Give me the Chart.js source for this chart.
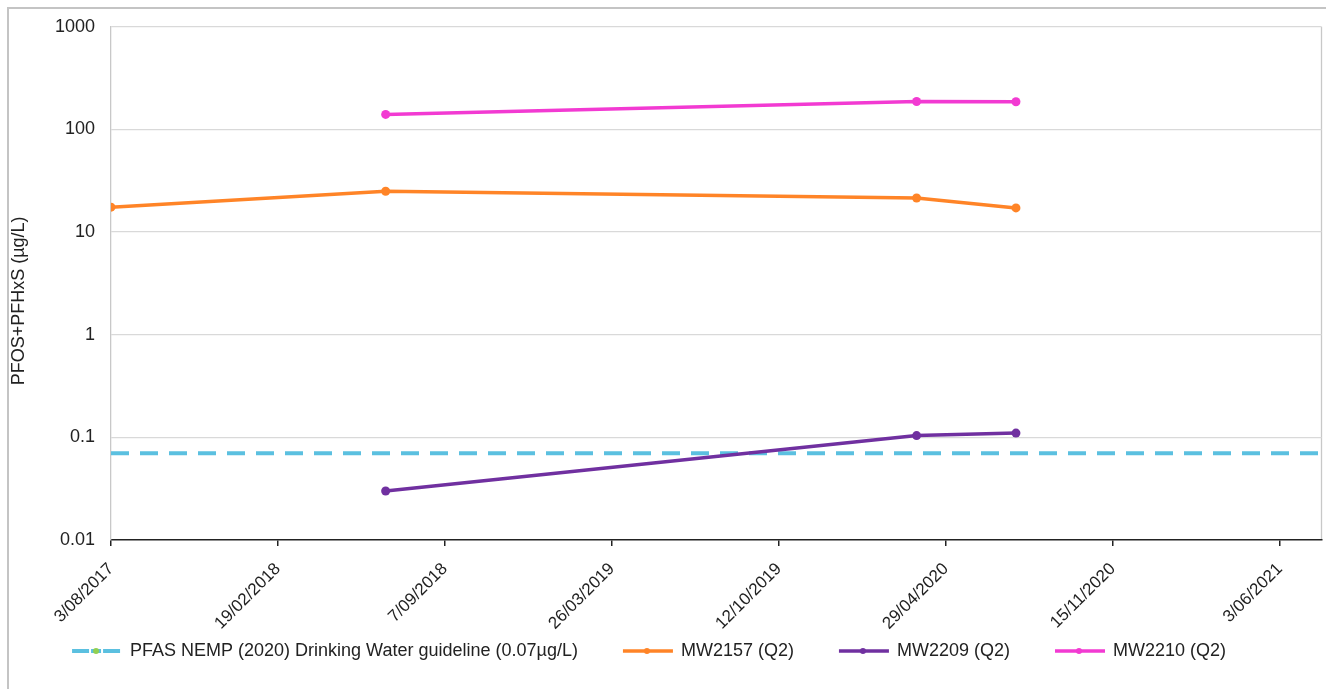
<!DOCTYPE html>
<html lang="en">
<head>
	<meta charset="UTF-8">
	<title>PFOS+PFHxS</title>
	<script src="https://cdn.jsdelivr.net/npm/chart.js@4/dist/chart.umd.min.js"></script>
	<style>
		body { margin: 0; background: #fff; }
		#wrap { position: absolute; left: 0; top: 0; width: 1326px; height: 689px; }
	</style>
</head>
<body>
	<div id="wrap"><canvas id="mainChart"></canvas></div>

	<script>
		// sample data
		const seriesNames = ["PFAS NEMP (2020) Drinking Water guideline (0.07µg/L)", "MW2157 (Q2)", "MW2209 (Q2)", "MW2210 (Q2)"]
		const guidelineValue = 0.07
		const mw2157Dates = ["2017-08-03", "2018-06-28", "2020-03-25", "2020-07-22"]
		const mw2157Values = [17.5, 25, 21.5, 17.2]
		const mw2209Dates = ["2018-06-28", "2020-03-25", "2020-07-22"]
		const mw2209Values = [0.03, 0.104, 0.11]
		const mw2210Dates = ["2018-06-28", "2020-03-25", "2020-07-22"]
		const mw2210Values = [140, 187, 186]
		const axisStart = "2017-08-03"
		const axisEnd = "2021-07-23"
		const tickDays = [0, 200, 400, 600, 800, 1000, 1200, 1400]
		const yTicks = [0.01, 0.1, 1, 10, 100, 1000]

		const colors = ["#5bc0e0", "#ff8427", "#7030a0", "#f23ad2"]

		const dayOf = s => {
			const [y, m, d] = s.split("-").map(Number)
			const [y0, m0, d0] = axisStart.split("-").map(Number)
			return (Date.UTC(y, m - 1, d) - Date.UTC(y0, m0 - 1, d0)) / 86400000
		}
		const fmtDay = n => {
			const [y0, m0, d0] = axisStart.split("-").map(Number)
			const dt = new Date(Date.UTC(y0, m0 - 1, d0) + n * 86400000)
			return `${dt.getUTCDate()}/${String(dt.getUTCMonth() + 1).padStart(2, "0")}/${dt.getUTCFullYear()}`
		}
		const pts = (dates, vals) => dates.map((d, i) => ({x: dayOf(d), y: vals[i]}))

		// little line+dot pictures for the legend, blank space on the left acts as the gap between items
		const iconGap = 36
		function legendIcon(color, dashed) {
			const c = document.createElement("canvas")
			c.width = 54 + iconGap
			c.height = 12
			const g = c.getContext("2d")
			g.translate(iconGap, 0)
			g.strokeStyle = color
			g.lineWidth = dashed ? 4 : 3.5
			if(dashed) {
				g.beginPath(); g.moveTo(2, 6); g.lineTo(19, 6); g.stroke()
				g.beginPath(); g.moveTo(33, 6); g.lineTo(50, 6); g.stroke()
				g.beginPath(); g.moveTo(21, 6); g.lineTo(31, 6); g.stroke()
				g.fillStyle = "#92d050"
			} else {
				g.beginPath(); g.moveTo(2, 6); g.lineTo(52, 6); g.stroke()
				g.fillStyle = color
			}
			g.beginPath(); g.arc(26, 6, 3, 0, Math.PI * 2); g.fill()
			return c
		}

		const framePlugin = {
			id: "frame",
			afterLayout(chart) {
				// legend in the original sits a bit left of centre
				if(chart.legend) chart.legend.right -= 26 + iconGap
			},
			beforeDraw(chart) {
				const {ctx, chartArea} = chart
				ctx.save()
				ctx.strokeStyle = "#c4c4c4"
				ctx.lineWidth = 2
				ctx.beginPath()
				ctx.moveTo(8, 689)
				ctx.lineTo(8, 8)
				ctx.lineTo(1326, 8)
				ctx.stroke()
				ctx.strokeStyle = "#c8c8c8"
				ctx.lineWidth = 1.3
				ctx.beginPath()
				ctx.moveTo(chartArea.right, chartArea.top)
				ctx.lineTo(chartArea.right, chartArea.bottom)
				ctx.stroke()
				ctx.restore()
			}
		}

		Chart.defaults.font.family = "'Liberation Sans', Arial, sans-serif"
		Chart.defaults.color = "#222"

		const lineStyle = (i) => ({
			borderColor: colors[i],
			backgroundColor: colors[i],
			borderWidth: 3.5,
			pointRadius: 4.5,
			pointHoverRadius: 4.5,
			pointBorderWidth: 0,
			tension: 0,
			order: i
		})

		new Chart(document.getElementById("mainChart"), {
			type: "line",
			plugins: [framePlugin],
			data: {
				datasets: [
					{
						label: seriesNames[0],
						data: [{x: 0, y: guidelineValue}, {x: dayOf(axisEnd), y: guidelineValue}],
						borderColor: colors[0],
						backgroundColor: colors[0],
						borderWidth: 4,
						borderDash: [18, 11],
						pointRadius: 0,
						order: 4
					},
					{label: seriesNames[1], data: pts(mw2157Dates, mw2157Values), ...lineStyle(1)},
					{label: seriesNames[2], data: pts(mw2209Dates, mw2209Values), ...lineStyle(2)},
					{label: seriesNames[3], data: pts(mw2210Dates, mw2210Values), ...lineStyle(3)}
				]
			},
			options: {
				responsive: true,
				maintainAspectRatio: false,
				animation: false,
				layout: {padding: {left: 0, top: 24, right: 1, bottom: 19}},
				scales: {
					x: {
						type: "linear",
						min: 0,
						max: dayOf(axisEnd),
						afterBuildTicks: scale => { scale.ticks = tickDays.map(v => ({value: v})) },
						afterFit: scale => { scale.height = 92 },
						grid: {drawOnChartArea: false, drawTicks: true, tickLength: 6, color: "#222", lineWidth: 1.5},
						border: {color: "#222", width: 1.5},
						ticks: {
							minRotation: 45,
							maxRotation: 45,
							padding: 13,
							font: {size: 17},
							callback: v => fmtDay(v)
						}
					},
					y: {
						type: "logarithmic",
						min: 0.01,
						max: 1000,
						afterBuildTicks: scale => { scale.ticks = yTicks.map(v => ({value: v})) },
						afterFit: scale => { scale.width = 111 },
						grid: {
							drawTicks: false,
							color: c => c.tick && c.tick.value === 0.01 ? "rgba(0,0,0,0)" : "#d9d9d9",
							lineWidth: 1.3
						},
						border: {color: "#c8c8c8", width: 1.3},
						ticks: {
							padding: 16,
							font: {size: 18},
							callback: v => String(v)
						},
						title: {
							display: true,
							text: "PFOS+PFHxS (µg/L)       ",
							font: {size: 18},
							padding: {top: 8, bottom: 0}
						}
					}
				},
				plugins: {
					legend: {
						position: "bottom",
						labels: {
							usePointStyle: true,
							pointStyleWidth: 48 + iconGap,
							padding: 10,
							font: {size: 18},
							sort: (a, b) => a.datasetIndex - b.datasetIndex,
							generateLabels: chart => chart.data.datasets.map((ds, i) => ({
								text: ds.label,
								datasetIndex: i,
								pointStyle: legendIcon(colors[i], i === 0),
								fontColor: "#222",
								lineWidth: 0,
								hidden: false
							}))
						}
					},
					tooltip: {enabled: false}
				}
			}
		})
	</script>
</body>
</html>
